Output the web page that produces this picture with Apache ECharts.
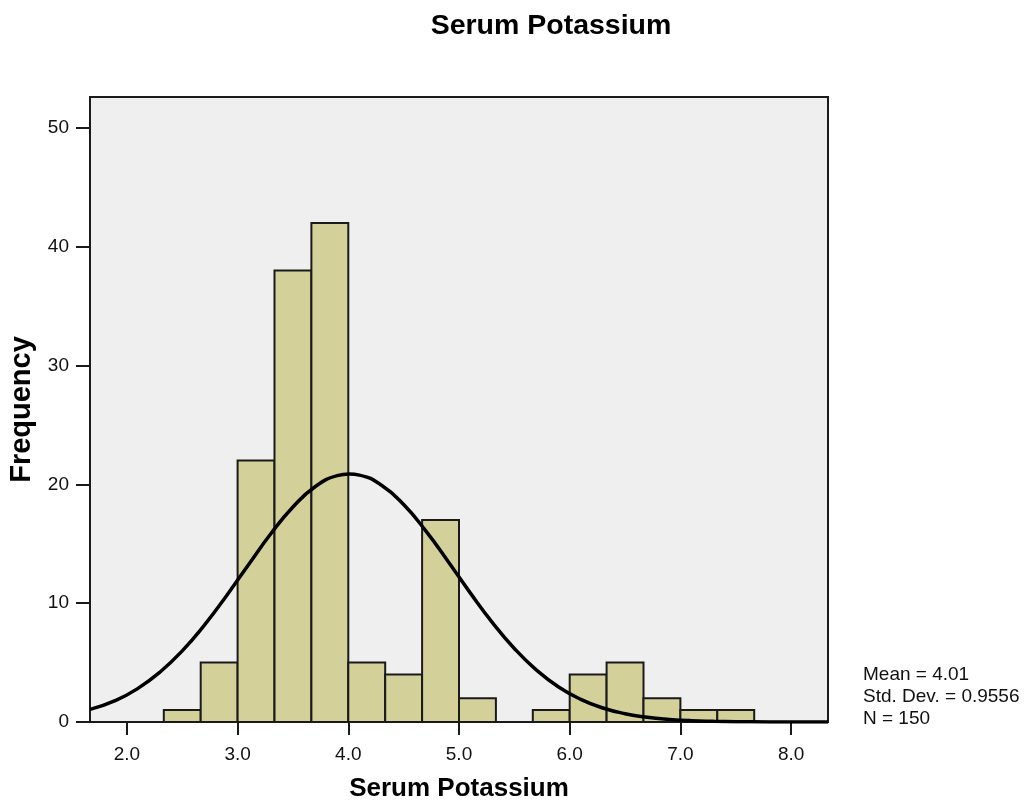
<!DOCTYPE html>
<html>
<head>
<meta charset="utf-8">
<script src="https://cdn.jsdelivr.net/npm/echarts@6/dist/echarts.min.js"></script>
<style>
  html, body { margin: 0; padding: 0; background: #fff; }
  #chart { width: 1029px; height: 807px; }
</style>
</head>
<body>
<div id="chart"></div>
<script>
// bin edges (width 1/3) and counts
const binStarts = [2.3333, 2.6667, 3.0, 3.3333, 3.6667, 4.0, 4.3333, 4.6667, 5.0, 5.3333, 5.6667, 6.0, 6.3333, 6.6667, 7.0, 7.3333];
const binEnds   = [2.6667, 3.0, 3.3333, 3.6667, 4.0, 4.3333, 4.6667, 5.0, 5.3333, 5.6667, 6.0, 6.3333, 6.6667, 7.0, 7.3333, 7.6667];
const counts    = [1, 5, 22, 38, 42, 5, 4, 17, 2, 0, 1, 4, 5, 2, 1, 1];

// normal curve
const curveX = [1.667, 1.9, 2.1, 2.3, 2.5, 2.7, 2.9, 3.1, 3.3, 3.5, 3.7, 3.9, 4.01, 4.1, 4.3, 4.5, 4.7, 4.9, 5.1, 5.3, 5.5, 5.7, 5.9, 6.1, 6.3, 6.5, 6.7, 6.9, 7.1, 7.3, 7.5, 7.8, 8.333];
const curveY = [1.06, 1.82, 2.83, 4.21, 5.99, 8.16, 10.63, 13.26, 15.84, 18.1, 19.8, 20.73, 20.87, 20.78, 19.93, 18.3, 16.08, 13.53, 10.89, 8.39, 6.19, 4.37, 2.95, 1.91, 1.18, 0.7, 0.4, 0.22, 0.11, 0.06, 0.03, 0.01, 0.0];

const xTicks = [2, 3, 4, 5, 6, 7, 8];
const yTicks = [0, 10, 20, 30, 40, 50];
const statsLines = ['Mean = 4.01', 'Std. Dev. = 0.9556', 'N = 150'];

const FONT = '"Liberation Sans", Arial, sans-serif';
const barFill = '#d4d09a';
const frameColor = '#1a1a1a';

const chart = echarts.init(document.getElementById('chart'));

const option = {
  animation: false,
  backgroundColor: '#ffffff',
  title: {
    text: 'Serum Potassium',
    left: 546,
    top: 7,
    textAlign: 'center',
    textStyle: {
      fontFamily: FONT,
      fontSize: 28.5,
      fontWeight: 'bold',
      color: '#000'
    }
  },
  grid: {
    left: 90,
    right: 201,
    top: 97,
    bottom: 85,
    containLabel: false,
    outerBoundsMode: 'none',
    show: true,
    backgroundColor: '#efefef',
    borderColor: frameColor,
    borderWidth: 2
  },
  xAxis: {
    type: 'value',
    min: 1.6667,
    max: 8.3333,
    name: 'Serum Potassium',
    nameLocation: 'middle',
    nameGap: 54,
    nameTextStyle: {
      fontFamily: FONT,
      fontSize: 26,
      fontWeight: 'bold',
      color: '#000',
      verticalAlign: 'top'
    },
    axisLine: { show: true, lineStyle: { color: frameColor, width: 2 } },
    axisTick: {
      show: true,
      inside: false,
      length: 13,
      customValues: xTicks,
      lineStyle: { color: frameColor, width: 2 }
    },
    axisLabel: {
      customValues: xTicks,
      margin: 23,
      fontFamily: FONT,
      fontSize: 19,
      color: '#111',
      formatter: (v) => v.toFixed(1)
    },
    splitLine: { show: false }
  },
  yAxis: {
    type: 'value',
    min: 0,
    max: 52.6,
    name: 'Frequency',
    nameLocation: 'middle',
    nameGap: 53,
    nameRotate: 90,
    nameTextStyle: {
      fontFamily: FONT,
      fontSize: 29,
      fontWeight: 'bold',
      color: '#000'
    },
    axisLine: { show: true, lineStyle: { color: frameColor, width: 2 } },
    axisTick: {
      show: true,
      inside: false,
      length: 14,
      customValues: yTicks,
      lineStyle: { color: frameColor, width: 2 }
    },
    axisLabel: {
      customValues: yTicks,
      margin: 21,
      fontFamily: FONT,
      fontSize: 19,
      color: '#111'
    },
    splitLine: { show: false }
  },
  series: [
    {
      type: 'custom',
      renderItem: (params, api) => {
        const start = api.coord([api.value(0), api.value(2)]);
        const end = api.coord([api.value(1), 0]);
        return {
          type: 'rect',
          shape: {
            x: start[0],
            y: start[1],
            width: end[0] - start[0],
            height: end[1] - start[1]
          },
          style: {
            fill: barFill,
            stroke: frameColor,
            lineWidth: 2
          }
        };
      },
      encode: { x: [0, 1], y: 2 },
      data: binStarts.map((s, i) => [s, binEnds[i], counts[i]]),
      z: 2
    },
    {
      type: 'line',
      data: curveX.map((x, i) => [x, curveY[i]]),
      smooth: true,
      symbol: 'none',
      lineStyle: { color: '#000', width: 3.5 },
      z: 3
    }
  ],
  graphic: statsLines.map((t, i) => ({
    type: 'text',
    left: 863,
    top: 665 + i * 22,
    style: {
      text: t,
      fontFamily: FONT,
      fontSize: 19,
      fill: '#111'
    }
  }))
};

chart.setOption(option);
</script>
</body>
</html>
